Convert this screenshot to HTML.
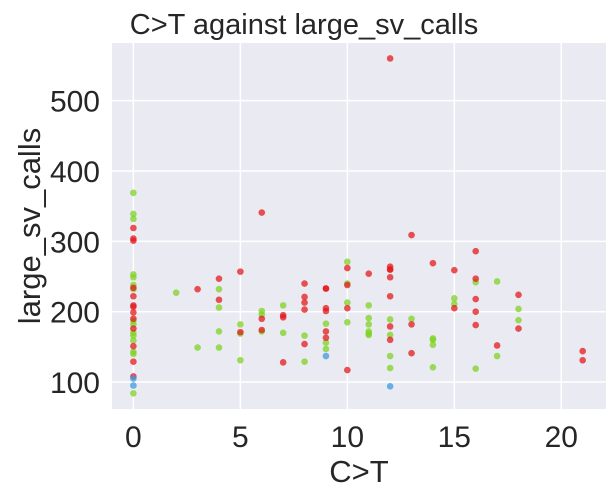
<!DOCTYPE html>
<html><head><meta charset="utf-8"><style>
body{margin:0;background:#fff;}
svg{display:block;font-family:"Liberation Sans",Arial,sans-serif;}
</style></head><body>
<svg id="chart" width="616" height="499" xmlns="http://www.w3.org/2000/svg">
<rect x="112" y="43" width="494" height="366" fill="#eaeaf2"/>
<g id="grid"></g>
<g id="pts"></g>
<g id="ticks" fill="#262626" font-size="30"></g>
<text x="304" y="34" text-anchor="middle" font-size="29" fill="#262626">C&gt;T against large_sv_calls</text>
<text x="359" y="482" text-anchor="middle" font-size="31" fill="#262626">C&gt;T</text>
<text transform="translate(40,226) rotate(-90)" text-anchor="middle" font-size="31" fill="#262626">large_sv_calls</text>
</svg>
<script>
const xTicks=[0,5,10,15,20];
const yTicks=[100,200,300,400,500];
const redX=[0,0,0,0,0,0,0,0,0,0,0,0,0,3,4,4,5,5,6,6,6,7,7,7,8,8,8,8,8,9,9,9,9,9,9,10,10,10,10,11,12,12,12,12,12,12,12,12,13,13,13,14,15,15,16,16,16,16,16,17,18,18,21,21];
const redY=[319,304,301,234,222,209,207,199,190,176,151,129,108,232,247,217,257,171,341,190,174,195,192,128,240,221,213,203,154,233,205,201,172,163,233,262,238,205,117,254,560,264,260,249,222,179,160,260,309,182,141,269,259,205,286,247,218,200,181,152,224,176,144,131];
const greenX=[0,0,0,0,0,0,0,0,0,0,0,0,0,0,0,2,3,4,4,4,4,5,5,5,6,6,6,7,7,8,8,9,9,9,10,10,10,10,11,11,11,11,11,11,12,12,12,12,13,14,14,14,14,15,15,16,16,17,17,18,18];
const greenY=[369,339,332,253,249,238,232,187,182,170,166,159,143,140,84,227,149,232,206,172,149,182,169,131,201,196,172,209,170,166,129,183,156,147,271,240,213,185,209,191,182,172,169,167,189,167,137,120,190,162,160,153,121,219,211,242,119,243,137,204,188];
const blueX=[0,0,9,12];
const blueY=[105,95,137,94];
const X0=112,X1=606,Y0=409,Y1=43,xmin=-1.0,xmax=22.09,ymin=61.7,ymax=582;
const sx=v=>X0+(v-xmin)/(xmax-xmin)*(X1-X0);
const sy=v=>Y0-(v-ymin)/(ymax-ymin)*(Y0-Y1);
const NS='http://www.w3.org/2000/svg';
const grid=document.getElementById('grid'),pts=document.getElementById('pts'),tk=document.getElementById('ticks');
xTicks.forEach(t=>{
  const l=document.createElementNS(NS,'line');
  
  
  l.setAttribute('x1',sx(t));l.setAttribute('x2',sx(t));l.setAttribute('y1',Y1);l.setAttribute('y2',Y0);
  l.setAttribute('stroke','#fff');l.setAttribute('stroke-width','1.5');grid.appendChild(l);
  const s=document.createElementNS(NS,'text');
  
  
  s.setAttribute('x',sx(t));s.setAttribute('y',447);s.setAttribute('text-anchor','middle');s.textContent=t;tk.appendChild(s);
});
yTicks.forEach(t=>{
  const l=document.createElementNS(NS,'line');
  
  
  l.setAttribute('x1',X0);l.setAttribute('x2',X1);l.setAttribute('y1',sy(t));l.setAttribute('y2',sy(t));
  l.setAttribute('stroke','#fff');l.setAttribute('stroke-width','1.5');grid.appendChild(l);
  const s=document.createElementNS(NS,'text');
  
  
  s.setAttribute('x',100);s.setAttribute('y',sy(t)+11);s.setAttribute('text-anchor','end');s.textContent=t;tk.appendChild(s);
});
function plot(xs,ys,col,name){
  xs.forEach((x,i)=>{
    const c=document.createElementNS(NS,'circle');
    
    
    c.setAttribute('cx',sx(x));c.setAttribute('cy',sy(ys[i]));c.setAttribute('r',3.3);
    c.setAttribute('fill',col);c.setAttribute('fill-opacity','0.75');pts.appendChild(c);
  });
}
plot(greenX,greenY,'#7ed321','point-green');
plot(redX,redY,'#e41a1c','point-red');
plot(blueX,blueY,'#3a9ae0','point-blue');
</script>
</body></html>
